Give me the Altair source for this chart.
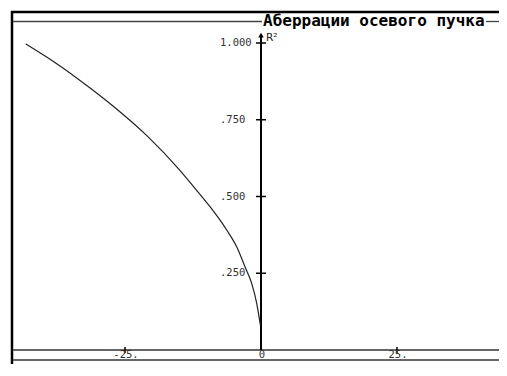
import altair as alt
import pandas as pd

# ---- data ----
curve_x = [-43.25, -39.47, -33.33, -27.21, -21.08, -14.94, -12.44, -9.38, -6.31, -4.47, -2.94, -1.71, -0.79, -0.10]
curve_y = [0.997, 0.955, 0.879, 0.795, 0.700, 0.586, 0.533, 0.467, 0.391, 0.336, 0.271, 0.217, 0.152, 0.080]

y_tick_values = [1.0, 0.75, 0.5, 0.25]
y_tick_labels = ["1.000", ".750", ".500", ".250"]
x_tick_values = [-25, 0, 25]
x_tick_labels = ["-25.", "0", "25."]
x_minor_ticks = [-25, 25]
title_text = "Аберрации осевого пучка"
y_axis_name = "R²"
y_axis_top = 1.026

W, H = 491, 356
# pixel mapping kept identical to the reference: x0 at 253, 5.44 px/unit; y0 at 342, 307 px/unit
xs = alt.Scale(domain=[-253 / 5.44, (W - 253) / 5.44], nice=False, zero=False)
ys = alt.Scale(domain=[(342 - H) / 307, 342 / 307], nice=False, zero=False)


def X(f):
    return alt.X(f, type="quantitative", scale=xs, axis=None)


def Y(f):
    return alt.Y(f, type="quantitative", scale=ys, axis=None)


one = pd.DataFrame({"t": [title_text]})
curve = pd.DataFrame({"x": curve_x, "y": curve_y})
yt = pd.DataFrame({"v": y_tick_values, "lab": y_tick_labels, "x0": [0] * len(y_tick_values)})
xt = pd.DataFrame({"v": x_tick_values, "lab": x_tick_labels})
xm = pd.DataFrame({"v": x_minor_ticks, "y0": [0] * len(x_minor_ticks)})
yax = pd.DataFrame({"x": [0], "y0": [0], "y1": [y_axis_top], "nm": [y_axis_name]})
xax = pd.DataFrame({"y": [0]})

# frame decorations
left_border = alt.Chart(one).mark_rule(color="black", strokeWidth=2.5).encode(
    x=alt.value(4), y=alt.value(3), y2=alt.value(H))
top_border = alt.Chart(one).mark_rule(color="black", strokeWidth=2.5).encode(
    x=alt.value(3), x2=alt.value(W), y=alt.value(4))
title_line_left = alt.Chart(one).mark_rule(color="#444", strokeWidth=1.3).encode(
    x=alt.value(5), x2=alt.value(254), y=alt.value(13.5))
title_line_right = alt.Chart(one).mark_rule(color="#444", strokeWidth=1.3).encode(
    x=alt.value(478), x2=alt.value(W), y=alt.value(13.5))
title = alt.Chart(one).mark_text(
    font="DejaVu Sans Mono", fontWeight="bold", fontSize=16, align="left",
    baseline="middle", color="black").encode(
    x=alt.value(255), y=alt.value(13), text="t:N")
bottom_line = alt.Chart(one).mark_rule(color="#666", strokeWidth=2).encode(
    x=alt.value(5), x2=alt.value(W), y=alt.value(352))

# axes drawn from data
x_axis = alt.Chart(xax).mark_rule(color="#666", strokeWidth=2).encode(
    y=Y("y"), x=alt.value(5), x2=alt.value(W))
y_axis = alt.Chart(yax).mark_rule(color="black", strokeWidth=2).encode(
    x=X("x"), y=Y("y0"), y2="y1:Q")
arrow = alt.Chart(yax).mark_point(shape="triangle-up", filled=True, color="black", size=30, opacity=1).encode(
    x=X("x"), y=Y("y1"))
r2 = alt.Chart(yax).mark_text(font="DejaVu Sans", fontSize=10.5, align="left", baseline="middle",
                              dx=5, dy=3, color="#222").encode(
    x=X("x"), y=Y("y1"), text="nm:N")
y_ticks = alt.Chart(yt).mark_tick(orient="horizontal", size=10, thickness=1.5, color="black", opacity=1).encode(
    x=X("x0"), y=Y("v"))
y_labels = alt.Chart(yt).mark_text(font="DejaVu Sans Mono", fontSize=10.5, align="left",
                                   baseline="middle", dx=-41, color="#333").encode(
    x=X("x0"), y=Y("v"), text="lab:N")
x_ticks = alt.Chart(xm).mark_tick(orient="vertical", size=6, thickness=1.5, color="black", opacity=1).encode(
    x=X("v"), y=Y("y0"))
x_labels = alt.Chart(xt).mark_text(font="DejaVu Sans Mono", fontSize=10.5, align="center",
                                   baseline="middle", dx=1, color="#333").encode(
    x=X("v"), y=alt.value(347), text="lab:N")

line = alt.Chart(curve).mark_line(color="#222", strokeWidth=1.2, interpolate="monotone").encode(
    x=X("x"), y=Y("y"))

chart = alt.layer(
    left_border, top_border, title_line_left, title_line_right, bottom_line,
    x_axis, y_axis, y_ticks, x_ticks, y_labels, x_labels, arrow, r2, title, line
).properties(
    width=W, height=H, padding=0, autosize=alt.AutoSizeParams(type="none"), background="white"
).configure_view(stroke=None)

chart.save("out.html", embed_options={"renderer": "svg", "actions": False})
